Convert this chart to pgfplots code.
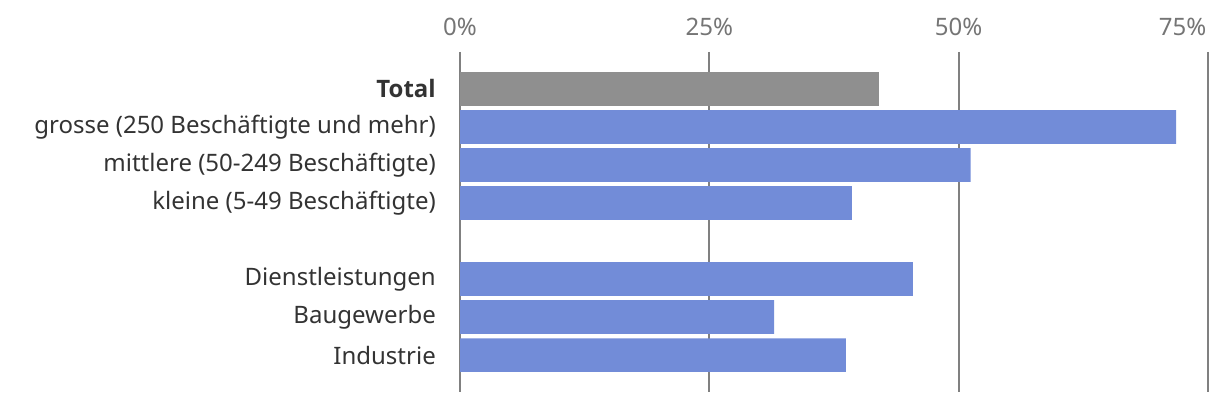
\documentclass[border=0pt]{standalone}
\usepackage{pgfplots}
\pgfplotsset{compat=1.18}
\usepackage{fontspec}
\setmainfont{Noto Sans}
\newfontfamily\osans{Open Sans}
\definecolor{barblue}{RGB}{114,140,216}
\definecolor{bargray}{RGB}{143,143,143}
\definecolor{gridgray}{RGB}{128,128,128}
\definecolor{ticktext}{RGB}{117,117,117}
\definecolor{labeltext}{RGB}{51,51,51}
\begin{document}
\begin{tikzpicture}
\useasboundingbox (0,0) rectangle (1220bp,402bp);
\begin{axis}[
  at={(460bp,10bp)}, anchor=south west,
  scale only axis, width=748bp, height=340bp,
  xbar, bar width=33.7bp, bar shift=0pt,
  xmin=0, xmax=75,
  ymin=-0.97, ymax=7.97, y dir=reverse,
  axis line style={draw=none},
  major tick length=0pt,
  xtick={0,25,50}, xticklabels={0\%,25\%,50\%},
  extra x ticks={75}, extra x tick labels={75\%},
  extra x tick style={xticklabel style={anchor=base east, xshift=-1.5bp}, grid=major},
  xticklabel pos=upper,
  xticklabel style={anchor=base, yshift=16bp, inner sep=0pt, text=ticktext, font=\fontsize{24bp}{28bp}\selectfont},
  xmajorgrids, grid style={gridgray, line width=1.8bp},
  ytick={0,1,2,3,5,6,7},
  yticklabels={{\osans\bfseries Total},grosse (250 Beschäftigte und mehr),mittlere (50-249 Beschäftigte),kleine (5-49 Beschäftigte),Dienstleistungen,Baugewerbe,Industrie},
  yticklabel style={anchor=east, inner sep=0pt, xshift=-24bp, text=labeltext, font=\fontsize{24bp}{28bp}\selectfont},
]
\addplot[draw=none, fill=bargray] coordinates {(42,0)};
\addplot[draw=none, fill=barblue] coordinates {(71.8,1) (51.2,2) (39.3,3) (45.4,5) (31.5,6) (38.7,7)};
\end{axis}
\end{tikzpicture}
\end{document}
